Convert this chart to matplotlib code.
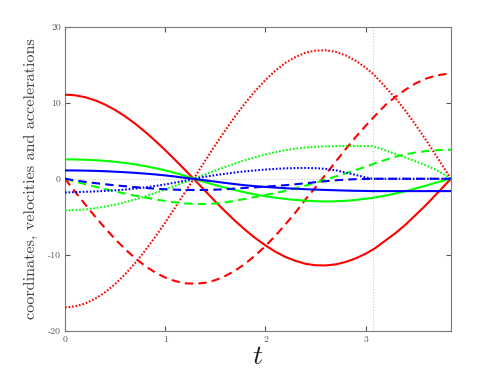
import matplotlib
matplotlib.use("Agg")
import matplotlib.pyplot as plt

# time samples
t = [0.0, 0.1, 0.2, 0.3, 0.4, 0.5, 0.6, 0.7, 0.8, 0.9, 1.0, 1.1, 1.2, 1.3, 1.4,
     1.5, 1.6, 1.7, 1.8, 1.9, 2.0, 2.1, 2.2, 2.3, 2.4, 2.5, 2.6, 2.7, 2.8, 2.9,
     3.0, 3.07, 3.1, 3.2, 3.3, 3.4, 3.5, 3.6, 3.7, 3.8, 3.85]

# red: coordinate / velocity / acceleration
x_red = [11.05, 10.97, 10.72, 10.31, 9.75, 9.04, 8.2, 7.24, 6.16, 5.0, 3.76, 2.46,
         1.13, -0.23, -1.62, -2.99, -4.31, -5.57, -6.74, -7.81, -8.76, -9.59,
         -10.28, -10.79, -11.18, -11.36, -11.39, -11.25, -10.93, -10.46, -9.84,
         -9.31, -9.06, -8.08, -7.11, -5.99, -4.73, -3.46, -2.08, -0.7, 0.0]
v_red = [0.0, -1.69, -3.35, -4.95, -6.49, -7.93, -9.25, -10.43, -11.46, -12.31,
         -12.98, -13.45, -13.73, -13.8, -13.66, -13.32, -12.77, -12.04, -11.13,
         -10.05, -8.84, -7.46, -5.97, -4.42, -2.7, -1.12, 0.56, 2.24, 3.9, 5.48,
         6.97, 7.96, 8.38, 9.74, 10.79, 11.74, 12.55, 13.15, 13.57, 13.77, 13.8]
a_red = [-16.9, -16.77, -16.4, -15.77, -14.91, -13.83, -12.54, -11.07, -9.42, -7.64,
         -5.75, -3.76, -1.72, 0.34, 2.4, 4.43, 6.39, 8.25, 9.99, 11.58, 12.98,
         14.22, 15.24, 16.01, 16.57, 16.84, 16.89, 16.68, 16.21, 15.51, 14.59,
         13.81, 13.43, 11.98, 10.54, 8.88, 7.02, 5.12, 3.09, 1.03, 0.0]

# green
x_green = [2.55, 2.54, 2.5, 2.44, 2.35, 2.23, 2.08, 1.89, 1.66, 1.4, 1.1, 0.76,
           0.38, -0.05, -0.45, -0.83, -1.18, -1.5, -1.8, -2.07, -2.3, -2.49, -2.65,
           -2.78, -2.88, -2.95, -2.98, -2.96, -2.9, -2.78, -2.62, -2.5, -2.44,
           -2.2, -1.93, -1.62, -1.27, -0.9, -0.52, -0.15, 0.0]
v_green = [0.0, -0.36, -0.7, -1.03, -1.35, -1.66, -1.95, -2.22, -2.47, -2.71, -2.92,
           -3.1, -3.24, -3.31, -3.32, -3.25, -3.1, -2.88, -2.63, -2.38, -2.12,
           -1.87, -1.58, -1.25, -0.9, -0.51, -0.1, 0.3, 0.7, 1.14, 1.6, 1.92, 2.06,
           2.5, 2.92, 3.22, 3.46, 3.63, 3.74, 3.8, 3.82]
a_green = [-4.15, -4.12, -4.03, -3.87, -3.66, -3.4, -3.08, -2.72, -2.31, -1.87,
           -1.41, -0.92, -0.42, 0.09, 0.59, 1.09, 1.57, 2.03, 2.46, 2.85, 3.2, 3.5,
           3.76, 3.96, 4.1, 4.2, 4.26, 4.29, 4.3, 4.3, 4.3, 4.28, 4.17, 3.72, 3.25,
           2.78, 2.28, 1.76, 1.18, 0.42, 0.0]

# blue
x_blue = [1.1, 1.09, 1.07, 1.04, 0.99, 0.93, 0.86, 0.78, 0.68, 0.57, 0.44, 0.29,
          0.12, -0.04, -0.21, -0.38, -0.55, -0.71, -0.86, -0.97, -1.07, -1.16,
          -1.24, -1.31, -1.37, -1.42, -1.47, -1.51, -1.55, -1.58, -1.6, -1.62,
          -1.62, -1.62, -1.62, -1.62, -1.62, -1.62, -1.62, -1.62, -1.62]
v_blue = [0.0, -0.21, -0.4, -0.57, -0.72, -0.86, -0.98, -1.1, -1.2, -1.3, -1.38,
          -1.43, -1.46, -1.48, -1.47, -1.43, -1.37, -1.29, -1.2, -1.12, -1.03,
          -0.94, -0.84, -0.72, -0.59, -0.45, -0.32, -0.2, -0.11, -0.05, -0.02, 0.0,
          0.0, 0.0, 0.0, 0.0, 0.0, 0.0, 0.0, 0.0, 0.0]
a_blue = [-1.8, -1.76, -1.71, -1.66, -1.59, -1.52, -1.42, -1.29, -1.13, -0.95,
          -0.74, -0.5, -0.24, 0.03, 0.27, 0.48, 0.66, 0.83, 0.98, 1.1, 1.21, 1.3,
          1.37, 1.41, 1.42, 1.39, 1.3, 1.12, 0.82, 0.5, 0.17, 0.0, 0.0, 0.0, 0.0,
          0.0, 0.0, 0.0, 0.0, 0.0, 0.0]

t_switch = 3.07
t_end = 3.85

plt.rcParams['font.family'] = 'cmr10'
plt.rcParams['mathtext.fontset'] = 'cm'
plt.rcParams['axes.unicode_minus'] = False

fig = plt.figure(figsize=(4.98, 3.74), dpi=100)
ax = fig.add_axes([0.1305, 0.115, 0.775, 0.814])

ax.axhline(0, color='#c8c8c8', lw=0.8, ls=':', zorder=1)
ax.axvline(t_switch, color='#c8c8c8', lw=0.8, ls=':', zorder=1)

dash = (0, (4, 2.5))
dot = (0, (0.8, 0.9))
lw = 1.5
for col, xs, vs, acc in [('#ff0000', x_red, v_red, a_red),
                         ('#00ff00', x_green, v_green, a_green),
                         ('#0000ff', x_blue, v_blue, a_blue)]:
    ax.plot(t, xs, color=col, lw=lw, ls='-', zorder=3)
    ax.plot(t, vs, color=col, lw=lw, ls=dash, zorder=3)
    ax.plot(t, acc, color=col, lw=lw, ls=dot, zorder=3)

ax.set_xlim(0, t_end)
ax.set_ylim(-20, 20)
ax.set_xticks([0, 1, 2, 3])
ax.set_yticks([-20, -10, 0, 10, 20])
ax.tick_params(direction='in', top=True, right=True, length=3.5, width=0.8,
               labelsize=7, colors='#555555', pad=3)
for s in ax.spines.values():
    s.set_color('#7a7a7a')
    s.set_linewidth(0.8)

ax.set_ylabel('coordinates, velocities and accelerations', fontsize=11.7,
              color='#404040', labelpad=7)
ax.set_xlabel(r'$t$', fontsize=20, color='#202020', labelpad=0)

fig.savefig('out.png', dpi=100)
